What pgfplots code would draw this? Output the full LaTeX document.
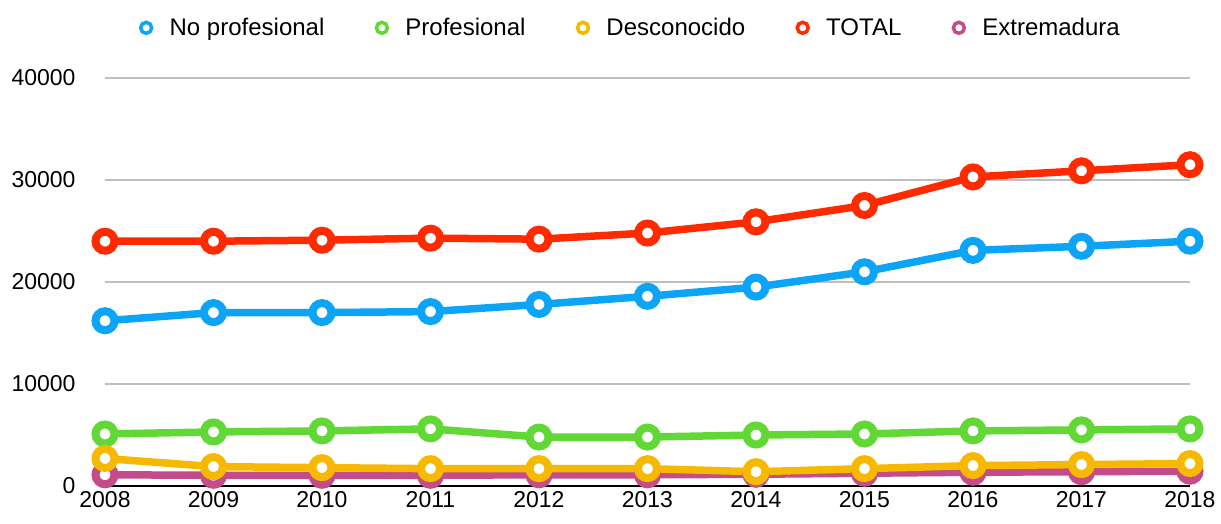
\documentclass[border=0pt]{standalone}
\usepackage{fontspec}
\setmainfont{Liberation Sans}
\usepackage{pgfplots}
\pgfplotsset{compat=1.18}
\definecolor{cblue}{HTML}{0CA4F6}
\definecolor{cgreen}{HTML}{62D836}
\definecolor{cyellow}{HTML}{F7B900}
\definecolor{cred}{HTML}{FF2A00}
\definecolor{cpink}{HTML}{C44C8A}
\begin{document}
\begin{tikzpicture}
\begin{axis}[
  scale only axis,
  width=1085pt, height=408pt,
  xmin=2008, xmax=2018, ymin=0, ymax=40000,
  xtick={2008,...,2018}, ytick={0,10000,...,40000},
  scaled y ticks=false,
  /pgf/number format/1000 sep={},
  /pgf/number format/assume math mode=true,
  tick label style={font=\fontsize{23}{27}\selectfont},
  ymajorgrids, grid style={line width=1.2pt, color=black!25},
  axis line style={draw=none},
  major tick length=0pt,
  yticklabel style={xshift=-26pt},
  xticklabel style={yshift=-2pt},
  clip=false,
  every axis plot/.append style={line width=7.5pt, mark=*, mark size=9.5pt, mark options={fill=white, line width=8pt}},
  legend style={draw=none, fill=none, font=\fontsize{24}{28}\selectfont, legend columns=-1,
    at={(0.485,1.123)}, anchor=center,
    /tikz/every even column/.append style={column sep=50pt},
    /tikz/every odd column/.append style={column sep=16pt}},
  legend image code/.code={\draw[#1, line width=3.5pt, mark size=5.5pt, mark options={fill=white,line width=3.5pt}] plot coordinates {(0.2cm,0cm)};},
]
\draw[black, line width=2pt] (axis cs:2008,0) -- (axis cs:2018,0);
\addplot[cpink, forget plot] coordinates {(2008,1100)(2009,1050)(2010,1050)(2011,1050)(2012,1100)(2013,1100)(2014,1150)(2015,1250)(2016,1350)(2017,1400)(2018,1450)};
\addplot[cblue] coordinates {(2008,16200)(2009,17000)(2010,17000)(2011,17100)(2012,17800)(2013,18600)(2014,19500)(2015,21000)(2016,23100)(2017,23500)(2018,24000)};
\addlegendentry{No profesional}
\addplot[cgreen] coordinates {(2008,5100)(2009,5300)(2010,5400)(2011,5600)(2012,4800)(2013,4800)(2014,5000)(2015,5100)(2016,5400)(2017,5500)(2018,5600)};
\addlegendentry{Profesional}
\addplot[cyellow] coordinates {(2008,2700)(2009,1900)(2010,1800)(2011,1700)(2012,1700)(2013,1700)(2014,1400)(2015,1700)(2016,2000)(2017,2100)(2018,2200)};
\addlegendentry{Desconocido}
\addplot[cred] coordinates {(2008,24000)(2009,24000)(2010,24100)(2011,24300)(2012,24200)(2013,24800)(2014,25900)(2015,27500)(2016,30300)(2017,30900)(2018,31500)};
\addlegendentry{TOTAL}
\addlegendimage{cpink, line width=7pt, mark=*}
\addlegendentry{Extremadura}
\end{axis}
\pgfresetboundingbox
\path[use as bounding box] (-105pt,-37pt) rectangle (1116pt,486pt);
\end{tikzpicture}
\end{document}
